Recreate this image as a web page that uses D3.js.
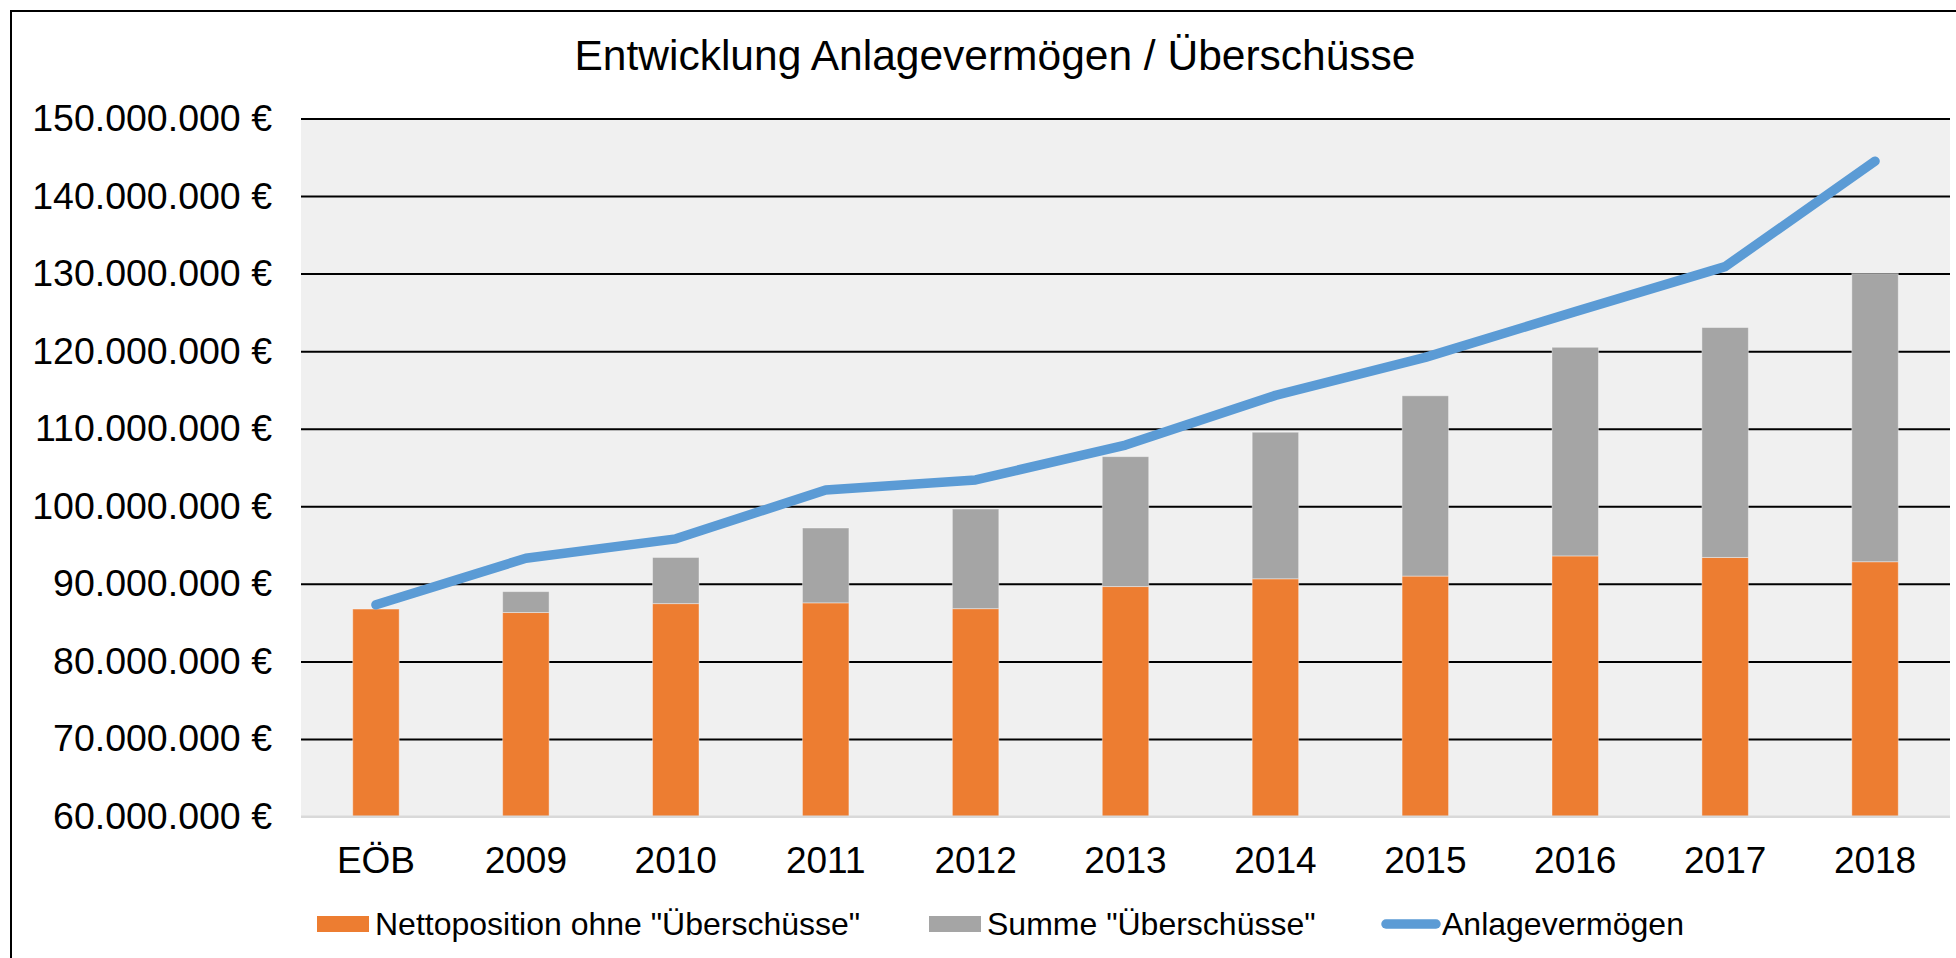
<!DOCTYPE html>
<html>
<head>
<meta charset="utf-8">
<script src="https://cdn.jsdelivr.net/npm/d3@7"></script>
<style>
  body { margin: 0; background: #fff; }
  text { font-family: 'Liberation Sans', Arial, sans-serif; fill: #000; }
</style>
</head>
<body>
<div id="wrapper"></div>
<script>
const categories = ['EÖB', '2009', '2010', '2011', '2012', '2013', '2014', '2015', '2016', '2017', '2018']
const netto = [86750000, 86300000, 87450000, 87550000, 86800000, 89650000, 90650000, 91000000, 93600000, 93400000, 92850000]
const ueberschuesse = [0, 2700000, 5950000, 9650000, 12850000, 16750000, 18900000, 23250000, 26900000, 29650000, 37150000]
const anlagevermoegen = [87300000, 93300000, 95800000, 102100000, 103400000, 107900000, 114300000, 119200000, 125100000, 130900000, 144500000]
const yTicks = [60000000, 70000000, 80000000, 90000000, 100000000, 110000000, 120000000, 130000000, 140000000, 150000000]
const seriesNames = ['Nettoposition ohne "Überschüsse"', 'Summe "Überschüsse"', 'Anlagevermögen']
const titleText = 'Entwicklung Anlagevermögen / Überschüsse'

const colors = {
  netto: '#ed7d31',
  ueber: '#a5a5a5',
  line: '#5b9bd5',
}

const dimensions = {
  width: 1956,
  height: 958,
  margin: { top: 118.5, right: 6, bottom: 141.5, left: 301 },
}
dimensions.boundedWidth = dimensions.width - dimensions.margin.left - dimensions.margin.right
dimensions.boundedHeight = dimensions.height - dimensions.margin.top - dimensions.margin.bottom

const de = d3.formatLocale({ decimal: ',', thousands: '.', grouping: [3], currency: ['', ' €'] })
const fmt = de.format(',.0f')

const svg = d3.select('#wrapper').append('svg')
  .attr('width', dimensions.width)
  .attr('height', dimensions.height)

// outer chart frame
svg.append('rect')
  .attr('x', 11).attr('y', 11)
  .attr('width', 2000).attr('height', 1000)
  .attr('fill', '#fff')
  .attr('stroke', '#000')
  .attr('stroke-width', 2)

svg.append('text')
  .attr('x', 995)
  .attr('y', 70)
  .attr('text-anchor', 'middle')
  .attr('font-size', 42.5)
  .text(titleText)

const bounds = svg.append('g')
  .attr('transform', `translate(${dimensions.margin.left},${dimensions.margin.top})`)

const xScale = d3.scaleBand()
  .domain(categories)
  .range([0, dimensions.boundedWidth])
  .paddingInner(0.69)
  .paddingOuter(0.345)

const yScale = d3.scaleLinear()
  .domain([60000000, 150000000])
  .range([dimensions.boundedHeight, 0])

bounds.append('rect')
  .attr('width', dimensions.boundedWidth)
  .attr('height', dimensions.boundedHeight)
  .attr('fill', '#f0f0f0')

const yAxis = bounds.append('g')
  .call(d3.axisLeft(yScale)
    .tickValues(yTicks)
    .tickSize(-dimensions.boundedWidth)
    .tickPadding(29)
    .tickFormat(d => `${fmt(d)} €`))
yAxis.select('.domain').remove()
yAxis.selectAll('.tick line')
  .attr('stroke', d => d === 60000000 ? '#d9d9d9' : '#000')
  .attr('stroke-width', 2)
yAxis.selectAll('.tick text')
  .attr('font-size', 37.5)
  .attr('font-family', "'Liberation Sans', Arial, sans-serif")

const stackData = categories.map((c, i) => ({ cat: c, netto: netto[i], ueber: ueberschuesse[i] }))
const stacked = d3.stack().keys(['netto', 'ueber'])(stackData)
const baseValue = 60000000

bounds.selectAll('.series')
  .data(stacked)
  .join('g')
  .attr('fill', d => colors[d.key])
  .selectAll('rect')
  .data(d => d)
  .join('rect')
  .attr('x', d => xScale(d.data.cat))
  .attr('width', xScale.bandwidth())
  .attr('y', d => yScale(d[1]))
  .attr('height', d => yScale(Math.max(d[0], baseValue)) - yScale(d[1]))
  .attr('stroke', '#fff')
  .attr('stroke-opacity', d => d[1] > d[0] ? 0.4 : 0)
  .attr('stroke-width', 1)

// baseline redrawn over bars
bounds.append('line')
  .attr('x1', 0).attr('x2', dimensions.boundedWidth)
  .attr('y1', yScale(60000000)).attr('y2', yScale(60000000))
  .attr('stroke', '#d9d9d9')
  .attr('stroke-width', 2)

const lineGen = d3.line()
  .x((d, i) => xScale(categories[i]) + xScale.bandwidth() / 2)
  .y(d => yScale(d))

bounds.append('path')
  .datum(anlagevermoegen)
  .attr('d', lineGen)
  .attr('fill', 'none')
  .attr('stroke', colors.line)
  .attr('stroke-width', 9.5)
  .attr('stroke-linecap', 'round')
  .attr('stroke-linejoin', 'round')

const xAxis = bounds.append('g')
  .attr('transform', `translate(0,${dimensions.boundedHeight})`)
  .call(d3.axisBottom(xScale).tickSize(0).tickPadding(30))
xAxis.select('.domain').remove()
xAxis.selectAll('.tick text')
  .attr('font-size', 37)
  .attr('font-family', "'Liberation Sans', Arial, sans-serif")

// legend
const legend = svg.append('g')
const legendItems = [
  { name: seriesNames[0], color: colors.netto, type: 'rect', x: 317 },
  { name: seriesNames[1], color: colors.ueber, type: 'rect', x: 929 },
  { name: seriesNames[2], color: colors.line, type: 'line', x: 1382 },
]
legendItems.forEach(item => {
  const g = legend.append('g').attr('transform', `translate(${item.x},924)`)
  if (item.type === 'rect') {
    g.append('rect')
      .attr('x', 0).attr('y', -8)
      .attr('width', 52).attr('height', 16)
      .attr('fill', item.color)
  } else {
    g.append('line')
      .attr('x1', 4).attr('x2', 54)
      .attr('y1', 0).attr('y2', 0)
      .attr('stroke', item.color)
      .attr('stroke-width', 9.5)
      .attr('stroke-linecap', 'round')
  }
  g.append('text')
    .attr('x', item.type === 'rect' ? 58 : 60)
    .attr('y', 11)
    .attr('font-size', 32)
    .text(item.name)
})
</script>
</body>
</html>
